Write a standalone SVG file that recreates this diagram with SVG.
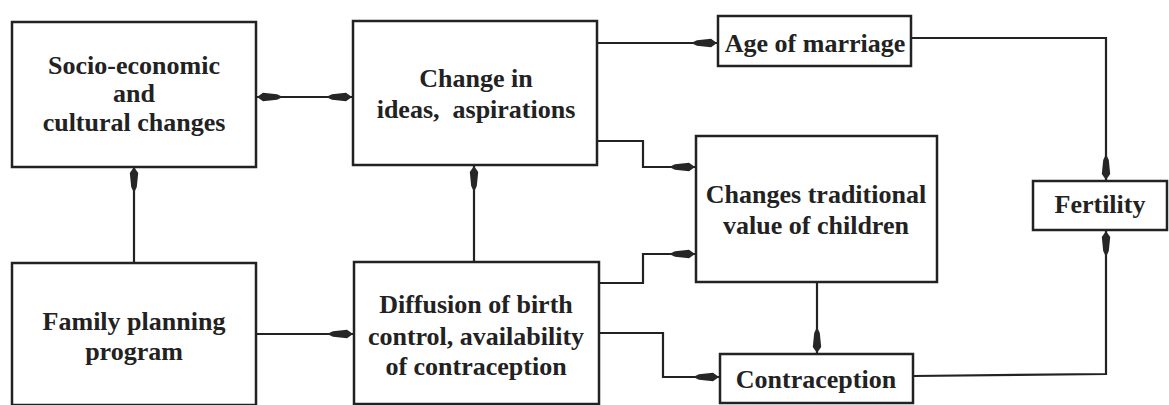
<svg xmlns="http://www.w3.org/2000/svg" width="1169" height="405" viewBox="0 0 1169 405">
<style>
.box{fill:#fff;stroke:#222;stroke-width:2.5}
.c{fill:none;stroke:#222;stroke-width:2.2}
</style>
<defs>
<marker id="ah" markerUnits="userSpaceOnUse" markerWidth="28" markerHeight="12" refX="26" refY="6" orient="auto-start-reverse">
<path d="M26,6 L20,1.8 L6,3.2 L0,6 L6,8.8 L20,10.2 Z" fill="#262626"/>
</marker>
</defs>
<rect width="1169" height="405" fill="#fff"/>
<g id="connectors">
<path class="c" d="M257,97 L352,97" marker-start="url(#ah)" marker-end="url(#ah)"/>
<path class="c" d="M134,263 L134,167" marker-end="url(#ah)"/>
<path class="c" d="M474,262 L474,166" marker-end="url(#ah)"/>
<path class="c" d="M256,334 L353,334" marker-end="url(#ah)"/>
<path class="c" d="M597,43 L717,43" marker-end="url(#ah)"/>
<path class="c" d="M597,141 L643,141 L643,167 L695,167" marker-end="url(#ah)"/>
<path class="c" d="M599,283 L643,283 L643,254 L695,254" marker-end="url(#ah)"/>
<path class="c" d="M599,333 L663,333 L663,377 L719,377" marker-end="url(#ah)"/>
<path class="c" d="M817,282 L817,353" marker-end="url(#ah)"/>
<path class="c" d="M911,38 L1106,38 L1106,180" marker-end="url(#ah)"/>
<path class="c" d="M913,376 L1106,374 L1106,231" marker-end="url(#ah)"/>
</g>
<g font-family="Liberation Serif, DejaVu Serif, serif" font-weight="bold" font-size="26" fill="#222" text-anchor="middle">
<g id="socio">
<rect class="box" x="12" y="22" width="244" height="145"/>
<text x="134" y="74">Socio-economic</text>
<text x="134" y="102">and</text>
<text x="134" y="131">cultural changes</text>
</g>
<g id="ideas">
<rect class="box" x="353" y="21" width="244" height="144"/>
<text x="476" y="87">Change in</text>
<text x="476" y="118" xml:space="preserve">ideas,  aspirations</text>
</g>
<g id="marriage">
<rect class="box" x="718" y="16" width="193" height="50"/>
<text x="815" y="52">Age of marriage</text>
</g>
<g id="traditional">
<rect class="box" x="696" y="136" width="241" height="146"/>
<text x="816" y="203">Changes traditional</text>
<text x="816" y="234">value of children</text>
</g>
<g id="fertility">
<rect class="box" x="1033" y="181" width="134" height="49"/>
<text x="1100" y="213">Fertility</text>
</g>
<g id="family">
<rect class="box" x="12" y="263" width="244" height="142"/>
<text x="134" y="330">Family planning</text>
<text x="134" y="360">program</text>
</g>
<g id="diffusion">
<rect class="box" x="354" y="262" width="245" height="142"/>
<text x="476" y="313">Diffusion of birth</text>
<text x="476" y="345">control, availability</text>
<text x="476" y="375">of contraception</text>
</g>
<g id="contraception">
<rect class="box" x="720" y="354" width="193" height="49"/>
<text x="816" y="388">Contraception</text>
</g>
</g>
</svg>
